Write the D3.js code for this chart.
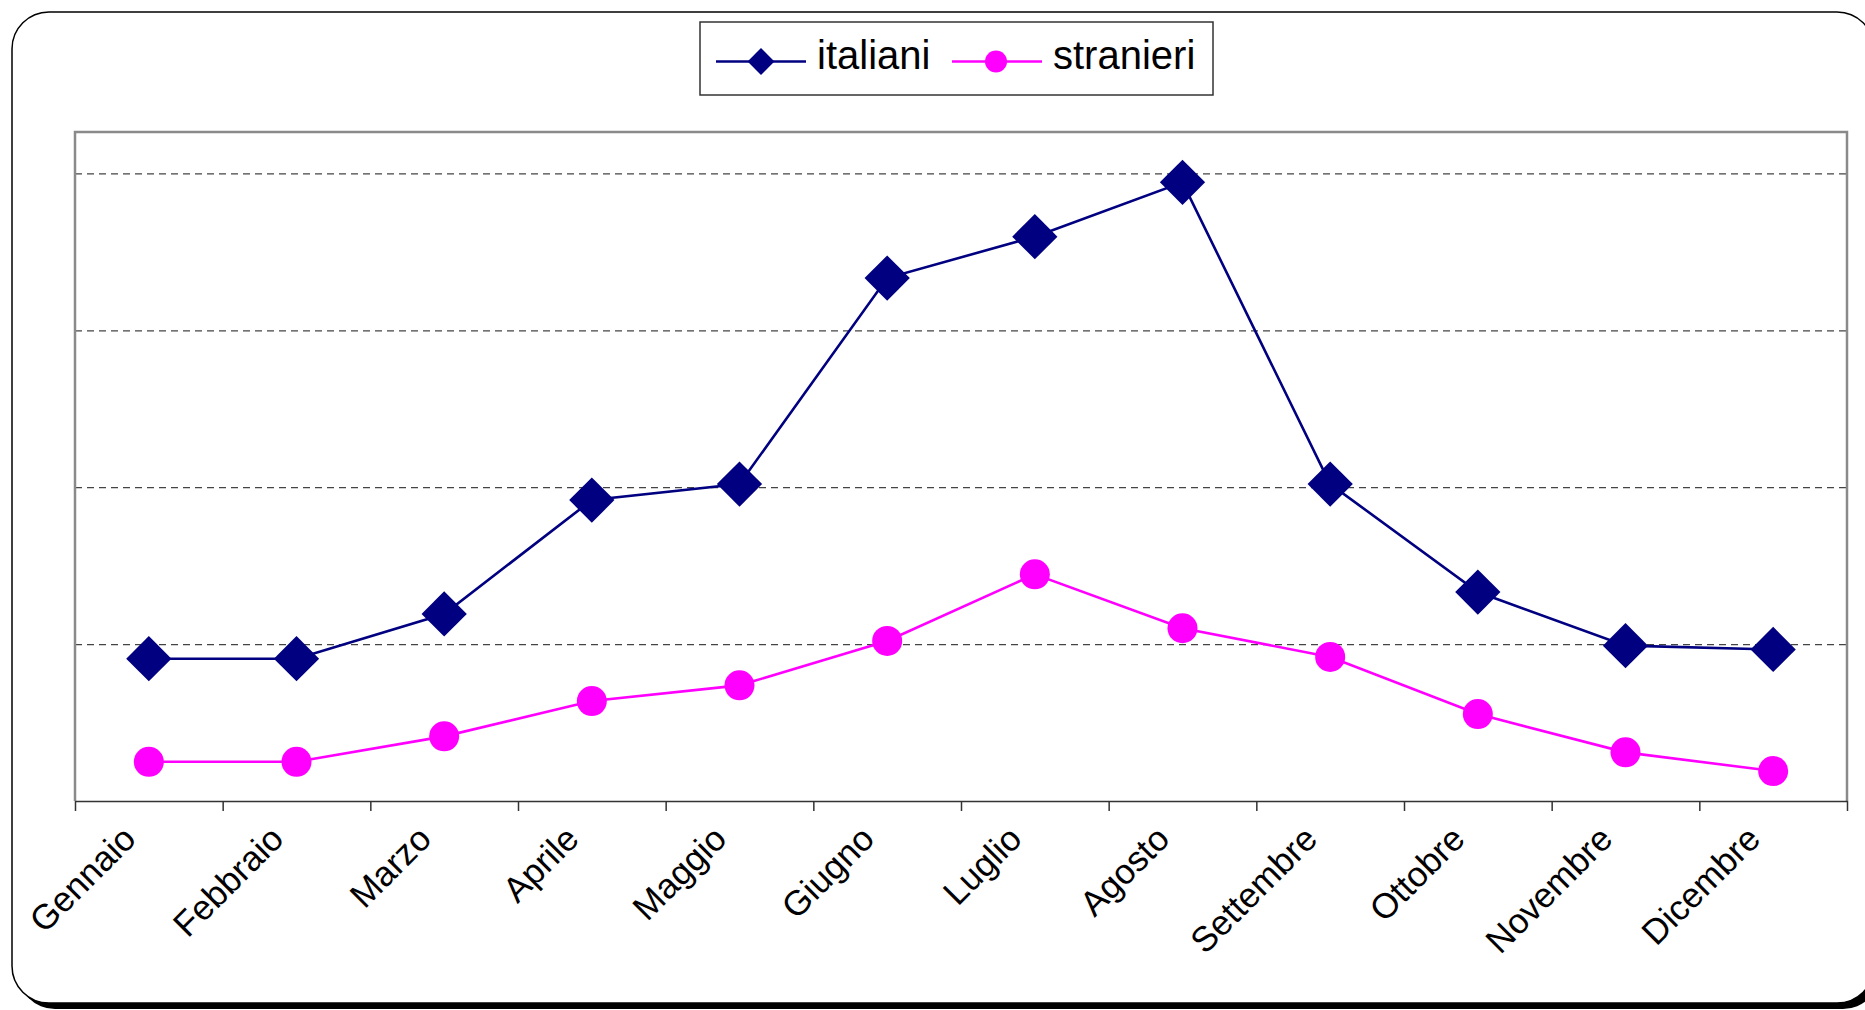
<!DOCTYPE html>
<meta charset="utf-8">
<style>
body { margin: 0; background: #fff; }
svg { display: block; }
text { font-family: 'Liberation Sans', Arial, sans-serif; fill: #000; }
.grid line { stroke: #444; stroke-width: 1.3; stroke-dasharray: 7,5; }
.grid path { display: none; }
.xaxis path, .xaxis line { stroke: #333; stroke-width: 1.5; }
</style>
<body>
<svg width="1865" height="1010"></svg>
<script src="https://d3js.org/d3.v7.min.js"></script>
<script>
// months and the two series (one grid step = 1000)
var mesi = ["Gennaio","Febbraio","Marzo","Aprile","Maggio","Giugno","Luglio","Agosto","Settembre","Ottobre","Novembre","Dicembre"];
var italiani = [907, 907, 1192, 1918, 2020, 3333, 3597, 3943, 2020, 1332, 990, 966];
var stranieri = [250, 250, 412, 637, 737, 1020, 1445, 1101, 918, 554, 310, 191];
var gridValues = [1000, 2000, 3000, 4000];
var yMax = 4264;

var svg = d3.select("svg");

// rounded frame with a dark shadow
svg.append("rect")
    .attr("x", 18).attr("y", 18).attr("width", 1862).attr("height", 991)
    .attr("rx", 37).style("fill", "#000");
svg.append("rect")
    .attr("x", 12).attr("y", 12).attr("width", 1862).attr("height", 991)
    .attr("rx", 37).style("fill", "#fff").style("stroke", "#000").style("stroke-width", 1.5);

var plot = {left: 75, top: 132, right: 1847, bottom: 801};
var w = plot.right - plot.left, h = plot.bottom - plot.top;

var x = d3.scaleBand().domain(mesi).range([plot.left, plot.right]).padding(0);
var xTicks = d3.scaleLinear().domain([0, mesi.length]).range([plot.left, plot.right]);
var y = d3.scaleLinear().domain([0, yMax]).range([plot.bottom, plot.top]);

var g = svg.append("g");

// dashed gridlines
g.append("g")
    .attr("class", "grid")
    .attr("transform", "translate(" + plot.left + ",0)")
    .call(d3.axisLeft(y).tickValues(gridValues).tickSize(-w).tickFormat(""));

// plot border (left, top, right in gray)
g.append("path")
    .attr("d", "M" + plot.left + "," + plot.bottom + "V" + plot.top + "H" + plot.right + "V" + plot.bottom)
    .style("fill", "none").style("stroke", "#8a8a8a").style("stroke-width", 2.5);

// category axis: ticks between the months
g.append("g")
    .attr("class", "xaxis")
    .attr("transform", "translate(0," + plot.bottom + ")")
    .call(d3.axisBottom(xTicks).ticks(mesi.length).tickSize(10).tickSizeOuter(0).tickFormat(""));

g.selectAll(".mese")
    .data(mesi)
  .enter().append("text")
    .attr("class", "mese")
    .attr("text-anchor", "end")
    .attr("transform", function(d) {
      return "translate(" + (x(d) + x.bandwidth() / 2 - 11) + "," + 841 + ") rotate(-45)";
    })
    .style("font-size", "35px")
    .text(function(d) { return d; });

var line = d3.line()
    .x(function(d, i) { return x(mesi[i]) + x.bandwidth() / 2; })
    .y(function(d) { return y(d); });

var diamond = d3.symbol().type(d3.symbolSquare).size(32 * 32);

// italiani
g.append("path")
    .datum(italiani)
    .attr("d", line)
    .style("fill", "none").style("stroke", "#000080").style("stroke-width", 2.6);
g.selectAll(".ita")
    .data(italiani)
  .enter().append("path")
    .attr("class", "ita")
    .attr("d", diamond)
    .attr("transform", function(d, i) {
      return "translate(" + (x(mesi[i]) + x.bandwidth() / 2) + "," + y(d) + ") rotate(45)";
    })
    .style("fill", "#000080");

// stranieri
g.append("path")
    .datum(stranieri)
    .attr("d", line)
    .style("fill", "none").style("stroke", "#ff00ff").style("stroke-width", 2.6);
g.selectAll(".str")
    .data(stranieri)
  .enter().append("circle")
    .attr("class", "str")
    .attr("cx", function(d, i) { return x(mesi[i]) + x.bandwidth() / 2; })
    .attr("cy", function(d) { return y(d); })
    .attr("r", 15)
    .style("fill", "#ff00ff");

// legend
var legend = svg.append("g");
legend.append("rect")
    .attr("x", 700).attr("y", 22).attr("width", 513).attr("height", 73)
    .style("fill", "#fff").style("stroke", "#333").style("stroke-width", 1.5);

var leg = [
  {name: "italiani", color: "#000080", x0: 716, sym: "diamond"},
  {name: "stranieri", color: "#ff00ff", x0: 952, sym: "circle"}
];
leg.forEach(function(d) {
  legend.append("line")
      .attr("x1", d.x0).attr("x2", d.x0 + 90).attr("y1", 61.5).attr("y2", 61.5)
      .style("stroke", d.color).style("stroke-width", 2.6);
  if (d.sym == "diamond") {
    legend.append("path")
        .attr("d", d3.symbol().type(d3.symbolSquare).size(19 * 19))
        .attr("transform", "translate(" + (d.x0 + 45) + ",61.5) rotate(45)")
        .style("fill", d.color);
  } else {
    legend.append("circle")
        .attr("cx", d.x0 + 44).attr("cy", 61.5).attr("r", 11)
        .style("fill", d.color);
  }
  legend.append("text")
      .attr("x", d.x0 + 101).attr("y", 69)
      .style("font-size", "40px")
      .text(d.name);
});
</script>
</body>
